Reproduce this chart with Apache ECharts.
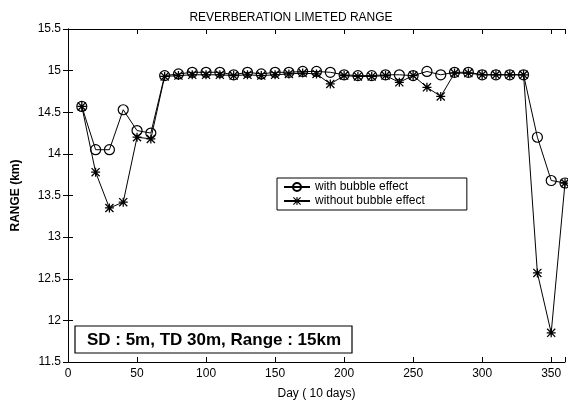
<!DOCTYPE html>
<html>
<head>
<meta charset="utf-8">
<script src="https://cdn.jsdelivr.net/npm/echarts@6/dist/echarts.min.js"></script>
<style>html,body{margin:0;padding:0;background:#fff}#c{width:568px;height:405px}</style>
</head>
<body>
<div id="c"></div>
<script>
var days = [10,20,30,40,50,60,70,80,90,100,110,120,130,140,150,160,170,180,190,200,210,220,230,240,250,260,270,280,290,300,310,320,330,340,350,360];
var withBubble = [14.57,14.05,14.05,14.53,14.28,14.25,14.94,14.96,14.98,14.98,14.98,14.95,14.98,14.96,14.98,14.98,14.99,14.99,14.98,14.95,14.94,14.94,14.95,14.95,14.94,14.99,14.95,14.98,14.98,14.95,14.95,14.95,14.95,14.20,13.68,13.65];
var withoutBubble = [14.57,13.78,13.35,13.42,14.20,14.18,14.93,14.94,14.95,14.95,14.95,14.94,14.95,14.94,14.95,14.96,14.97,14.96,14.84,14.94,14.93,14.93,14.94,14.86,14.94,14.80,14.69,14.97,14.97,14.95,14.95,14.95,14.95,12.57,11.85,13.65];
var xTicks = [0,50,100,150,200,250,300,350];
var yTicks = [11.5,12,12.5,13,13.5,14,14.5,15,15.5];
var seriesNames = ['with bubble effect','without bubble effect'];
var titleText = 'REVERBERATION LIMETED RANGE';
var noteText = 'SD : 5m, TD 30m, Range : 15km';

var FONT = 'Liberation Sans, Arial, sans-serif';
var star = 'path://M4.3,0 L5.7,0 L5.7,10 L4.3,10 Z M0,4.3 L10,4.3 L10,5.7 L0,5.7 Z M0,1 L1,0 L10,9 L9,10 Z M9,0 L10,1 L1,10 L0,9 Z';
function pair(xs, ys){ return xs.map(function(x,i){ return [x, ys[i]]; }); }

var chart = echarts.init(document.getElementById('c'), null, {renderer:'canvas'});
var axCommon = {
  axisLine:{show:true, lineStyle:{color:'#000', width:1}},
  axisTick:{show:true, inside:true, length:5, lineStyle:{color:'#000'}},
  splitLine:{show:false}
};
chart.setOption({
  animation:false,
  backgroundColor:'#fff',
  title:{text:titleText, left:286, top:7, textAlign:'center',
    textStyle:{fontFamily:FONT, fontSize:12, fontWeight:'normal', color:'#000'}},
  grid:{left:68, right:3, top:29, bottom:42, containLabel:false},
  legend:{
    data:seriesNames, orient:'vertical', left:277, top:178,
    itemWidth:26, itemHeight:10, itemGap:2,
    padding:[3,42,3,6],
    backgroundColor:'#fff', borderColor:'#000', borderWidth:1,
    textStyle:{fontFamily:FONT, fontSize:12, color:'#000'}
  },
  xAxis:[
    Object.assign({type:'value', min:0, max:360, interval:50, position:'bottom',
      name:'Day ( 10 days)', nameLocation:'middle', nameGap:26,
      nameTextStyle:{fontFamily:FONT, fontSize:12, color:'#000'},
      axisLabel:{fontFamily:FONT, fontSize:12, color:'#000', margin:6,
        customValues:xTicks}}, axCommon),
    Object.assign({type:'value', min:0, max:360, interval:50, position:'top',
      axisLabel:{show:false}}, axCommon)
  ],
  yAxis:[
    Object.assign({type:'value', min:11.5, max:15.5, interval:0.5, position:'left',
      name:'RANGE (km)', nameLocation:'middle', nameGap:46, nameRotate:90,
      nameTextStyle:{fontFamily:FONT, fontSize:12, fontWeight:'bold', color:'#000'},
      axisLabel:{fontFamily:FONT, fontSize:12, color:'#000', margin:7,
        customValues:yTicks}}, axCommon),
    Object.assign({type:'value', min:11.5, max:15.5, interval:0.5, position:'right',
      axisLabel:{show:false}}, axCommon)
  ],
  series:[
    {name:seriesNames[1], type:'line', data:pair(days, withoutBubble),
      symbol:star, symbolSize:9,
      lineStyle:{color:'#000', width:1},
      itemStyle:{color:'#000'}},
    {name:seriesNames[0], type:'line', data:pair(days, withBubble),
      symbol:'circle', symbolSize:10,
      lineStyle:{color:'#000', width:1},
      itemStyle:{color:'rgba(0,0,0,0)', borderColor:'#000', borderWidth:1.2}}
  ],
  graphic:[
    {type:'rect', shape:{x:75, y:326, width:277, height:27},
      style:{fill:'#fff', stroke:'#000', lineWidth:1.2}, z:100},
    {type:'text', x:214, y:340, z:101,
      style:{text:noteText, fontFamily:FONT, fontSize:17, fontWeight:'bold',
        fill:'#000', align:'center', verticalAlign:'middle'}}
  ]
});
</script>
</body>
</html>
